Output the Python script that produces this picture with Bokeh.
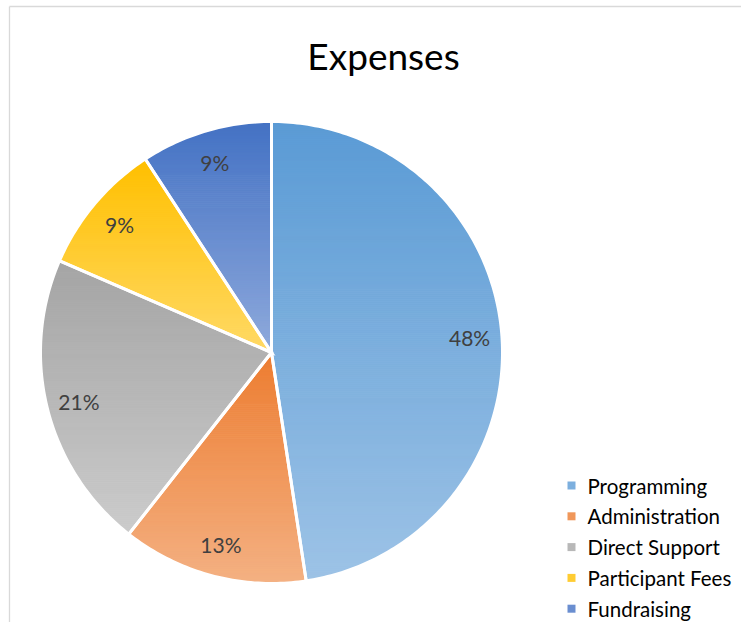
import numpy as np
from bokeh.plotting import figure
from bokeh.models import Range1d, ColumnDataSource
from bokeh.core.properties import value
from bokeh.embed import file_html
from bokeh.resources import INLINE

# ---- data ----
title = "Expenses"
categories = ["Programming", "Administration", "Direct Support", "Participant Fees", "Fundraising"]
values = [47.6, 13.0, 20.9, 9.3, 9.2]
top_colors = ["#5B9BD5", "#ED7D31", "#A5A5A5", "#FFC000", "#4472C4"]
bottom_colors = ["#9DC3E6", "#F4B183", "#CBCBCB", "#FFD966", "#8FAADC"]

# ---- layout (pixel-like units, y down) ----
W, H = 741, 622
cx, cy, R = 271.0, 352.0, 231.0
label_frac = 0.86
FONT = "Lato"

p = figure(width=W, height=H, output_backend="svg", toolbar_location=None,
           x_range=Range1d(0, W), y_range=Range1d(H, 0), min_border=0)
p.axis.visible = False
p.grid.visible = False
p.outline_line_color = None
p.background_fill_color = "white"
p.border_fill_color = "white"

# chart-area border (left and top only visible in the crop)
p.line(x=[9, 9], y=[H, 6], line_color="#D9D9D9", line_width=1.3)
p.line(x=[9, W], y=[6, 6], line_color="#D9D9D9", line_width=1.3)


def hex2rgb(h):
    h = h.lstrip("#")
    return np.array([int(h[i:i + 2], 16) for i in (0, 2, 4)], dtype=float)


def rgb2hex(c):
    c = np.clip(np.round(c), 0, 255).astype(int)
    return "#%02x%02x%02x" % tuple(c)


def clip(poly, y0, y1):
    def clip_edge(pts, keep, inter):
        out = []
        n = len(pts)
        for i in range(n):
            a, b = pts[i - 1], pts[i]
            ia, ib = keep(a), keep(b)
            if ib:
                if not ia:
                    out.append(inter(a, b))
                out.append(b)
            elif ia:
                out.append(inter(a, b))
        return out

    def inter_y(yv):
        def f(a, b):
            t = (yv - a[1]) / (b[1] - a[1])
            return (a[0] + t * (b[0] - a[0]), yv)
        return f

    pts = clip_edge(poly, lambda q: q[1] >= y0, inter_y(y0))
    if not pts:
        return pts
    pts = clip_edge(pts, lambda q: q[1] <= y1, inter_y(y1))
    return pts


total = float(sum(values))
fracs = [v / total for v in values]
starts = np.cumsum([0] + fracs[:-1]) * 2 * np.pi
ends = starts + np.array(fracs) * 2 * np.pi

band_xs, band_ys, band_cols = [], [], []
out_xs, out_ys = [], []
lab_x, lab_y, lab_t = [], [], []
for i, cat in enumerate(categories):
    th = np.linspace(starts[i], ends[i], max(8, int(fracs[i] * 400)))
    px = [cx] + list(cx + R * np.sin(th))
    py = [cy] + list(cy - R * np.cos(th))
    poly = list(zip(px, py))
    out_xs.append(px)
    out_ys.append(py)
    ymin, ymax = min(py), max(py)
    c0, c1 = hex2rgb(top_colors[i]), hex2rgb(bottom_colors[i])
    nb = int(np.ceil((ymax - ymin) / 2.0))
    edges = np.linspace(ymin, ymax, nb + 1)
    for k in range(nb):
        seg = clip(poly, edges[k], edges[k + 1] + 0.6)
        if len(seg) < 3:
            continue
        t = (k + 0.5) / nb
        band_xs.append([q[0] for q in seg])
        band_ys.append([q[1] for q in seg])
        band_cols.append(rgb2hex(c0 + (c1 - c0) * t))
    mid = (starts[i] + ends[i]) / 2
    lab_x.append(cx + label_frac * R * np.sin(mid))
    lab_y.append(cy - label_frac * R * np.cos(mid))
    lab_t.append("%d%%" % int(round(fracs[i] * 100)))

p.patches(xs="xs", ys="ys", fill_color="c", line_color="c", line_width=0.6,
          source=ColumnDataSource(dict(xs=band_xs, ys=band_ys, c=band_cols)))
p.patches(xs=out_xs, ys=out_ys, fill_alpha=0, line_color="white", line_width=3,
          line_join="miter")

p.text(x=lab_x, y=lab_y, text=lab_t, text_align="center", text_baseline="middle",
       text_font=value(FONT), text_font_size="21px", text_color="#404040")

# title
p.text(x=[383], y=[55], text=[title], text_align="center", text_baseline="middle",
       text_font=value(FONT), text_font_size="37px", text_color="#000000")

# legend
leg_x0, leg_y0, leg_dy = 571, 485, 30.8
ly = [leg_y0 + i * leg_dy for i in range(len(categories))]
mid_cols = [rgb2hex((hex2rgb(a) + hex2rgb(b)) / 2) for a, b in zip(top_colors, bottom_colors)]
p.scatter(x=[leg_x0] * len(categories), y=ly, marker="square", size=8,
          fill_color=mid_cols, line_color=None)
p.text(x=[leg_x0 + 16] * len(categories), y=ly, text=categories, text_align="left",
       text_baseline="middle", text_font=value(FONT), text_font_size="20.5px",
       text_color="#000000")

open("out.html", "w").write(file_html(p, INLINE))
